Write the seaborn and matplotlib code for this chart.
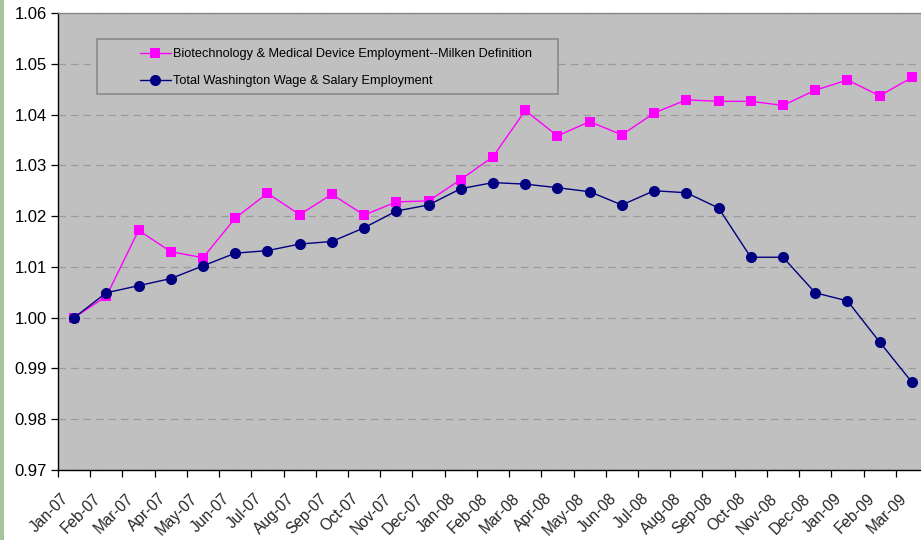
import matplotlib
matplotlib.use("Agg")
import matplotlib.pyplot as plt
import matplotlib.transforms as mtransforms
import seaborn as sns
import pandas as pd
from matplotlib.patches import Rectangle
from matplotlib.ticker import FixedLocator

months = ["Jan-07", "Feb-07", "Mar-07", "Apr-07", "May-07", "Jun-07", "Jul-07", "Aug-07", "Sep-07",
          "Oct-07", "Nov-07", "Dec-07", "Jan-08", "Feb-08", "Mar-08", "Apr-08", "May-08", "Jun-08",
          "Jul-08", "Aug-08", "Sep-08", "Oct-08", "Nov-08", "Dec-08", "Jan-09", "Feb-09", "Mar-09"]
biotech = [1.0000, 1.0042, 1.0172, 1.0130, 1.0118, 1.0196, 1.0245, 1.0203, 1.0243,
           1.0202, 1.0228, 1.0230, 1.0272, 1.0317, 1.0408, 1.0358, 1.0386, 1.0360,
           1.0403, 1.0429, 1.0426, 1.0426, 1.0418, 1.0448, 1.0468, 1.0437, 1.0473]
total_wa = [1.0000, 1.0049, 1.0063, 1.0077, 1.0102, 1.0127, 1.0132, 1.0145, 1.0150,
            1.0177, 1.0210, 1.0222, 1.0254, 1.0266, 1.0263, 1.0256, 1.0248, 1.0222,
            1.0250, 1.0246, 1.0216, 1.0119, 1.0119, 1.0049, 1.0033, 0.9952, 0.9873]
series_names = ["Biotechnology & Medical Device Employment--Milken Definition",
                "Total Washington Wage & Salary Employment"]
y_ticks = [0.97, 0.98, 0.99, 1.00, 1.01, 1.02, 1.03, 1.04, 1.05, 1.06]

sns.set_theme(style="white")
plt.rcParams['font.family'] = ['Liberation Sans', 'DejaVu Sans']

W, H = 921, 540
fig = plt.figure(figsize=(W / 100, H / 100), dpi=100)
fig.patch.set_facecolor("white")
fig.patches.append(Rectangle((0, 0), 4 / W, 1, transform=fig.transFigure,
                             facecolor="#A8C49A", edgecolor="none", zorder=0))

ax_l, ax_t, ax_r, ax_b = 58, 13, 928, 470
ax = fig.add_axes([ax_l / W, 1 - ax_b / H, (ax_r - ax_l) / W, (ax_b - ax_t) / H])
ax.set_facecolor("#C0C0C0")

x = list(range(len(months)))
df = pd.DataFrame({"x": x, "bio": biotech, "wa": total_wa})

sns.lineplot(data=df, x="x", y="bio", ax=ax, color="#FF00FF", linewidth=1.0,
             marker="s", markersize=7.5, markeredgewidth=0, label=series_names[0], zorder=3)
sns.lineplot(data=df, x="x", y="wa", ax=ax, color="#000080", linewidth=1.0,
             marker="o", markersize=8, markeredgewidth=0, label=series_names[1], zorder=4)

ax.set_xlim(-0.5, len(months) - 0.5)
ax.set_ylim(0.97, 1.06)
ax.set_yticks(y_ticks)
ax.set_yticklabels([f"{v:.2f}" for v in y_ticks], fontsize=12, color="black")
ax.yaxis.grid(True, color="#9A9A9A", linestyle=(0, (6, 4)), linewidth=0.9)
ax.xaxis.grid(False)

ax.set_xticks(x)
ax.set_xticklabels(months, rotation=45, ha="right", rotation_mode="anchor", fontsize=11.2)
ax.tick_params(axis="x", which="major", length=0, pad=15)
offset = mtransforms.ScaledTranslation(-13 / 100, 0, fig.dpi_scale_trans)
for lab in ax.get_xticklabels():
    lab.set_transform(lab.get_transform() + offset)
ax.xaxis.set_minor_locator(FixedLocator([i - 0.5 for i in range(len(months) + 1)]))
ax.tick_params(axis="x", which="minor", length=5, width=0.9, color="black", direction="out", bottom=True)
ax.tick_params(axis="y", which="major", length=5, width=0.9, color="black", direction="out", left=True, pad=3)
ax.set_xlabel("")
ax.set_ylabel("")

for side in ["left", "bottom"]:
    ax.spines[side].set_color("black")
    ax.spines[side].set_linewidth(1.0)
for side in ["top", "right"]:
    ax.spines[side].set_color("#808080")
    ax.spines[side].set_linewidth(0.9)

# legend frame (Excel-style box)
aw, ah = ax_r - ax_l, ax_b - ax_t
box_l, box_t, box_r, box_b = 97, 39, 558, 94
ax.add_patch(Rectangle(((box_l - ax_l) / aw, 1 - (box_b - ax_t) / ah),
                       (box_r - box_l) / aw, (box_b - box_t) / ah,
                       transform=ax.transAxes, facecolor="#C0C0C0", edgecolor="#8A8A8A",
                       linewidth=1.2, zorder=5))

leg = ax.legend(loc="upper left", bbox_to_anchor=((140 - ax_l) / aw, 1 - (48 - ax_t) / ah),
                fontsize=9.2, frameon=False, handlelength=2.4, handletextpad=0.2,
                borderpad=0, labelspacing=1.18, borderaxespad=0)
leg.set_zorder(6)
for t in leg.get_texts():
    t.set_color("black")

fig.savefig("out.png", dpi=100)
